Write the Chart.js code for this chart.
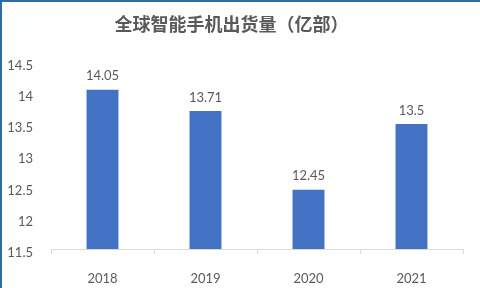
<!DOCTYPE html>
<html>
<head>
<meta charset="utf-8">
<script src="https://cdn.jsdelivr.net/npm/chart.js@4"></script>
<style>
  html, body { margin: 0; padding: 0; background: #fff; }
</style>
</head>
<body>
<canvas id="myChart" width="480" height="288"></canvas>
<script>
const years = ['2018', '2019', '2020', '2021']
const shipments = [14.05, 13.71, 12.45, 13.5]
const yMin = 11.5
const yMax = 14.5
const yStep = 0.5

const textColor = '#595959'
const fontFamily = "Lato, 'Noto Sans', sans-serif"

// value labels above bars + the blue frame on the left/top edges
const barLabels = {
  id: 'barLabels',
  afterDatasetsDraw(chart) {
    const ctx = chart.ctx
    const meta = chart.getDatasetMeta(0)
    ctx.save()
    ctx.font = '13px ' + fontFamily
    ctx.fillStyle = textColor
    ctx.textAlign = 'center'
    ctx.textBaseline = 'bottom'
    meta.data.forEach((bar, i) => {
      ctx.fillText(String(shipments[i]), bar.x, bar.y - 7)
    })
    ctx.restore()
  },
  afterDraw(chart) {
    const ctx = chart.ctx
    ctx.save()
    ctx.strokeStyle = '#2e6da4'
    ctx.lineWidth = 2
    ctx.beginPath()
    ctx.moveTo(1, chart.height)
    ctx.lineTo(1, 1)
    ctx.lineTo(chart.width, 1)
    ctx.stroke()
    ctx.restore()
  }
}

const config = {
  type: 'bar',
  data: {
    labels: years,
    datasets: [
      {
        data: shipments,
        backgroundColor: '#4472c4',
        categoryPercentage: 1,
        barPercentage: 0.31
      }
    ]
  },
  options: {
    responsive: false,
    animation: false,
    layout: {
      padding: { top: 0, right: 17, bottom: 0, left: 0 }
    },
    plugins: {
      legend: { display: false },
      tooltip: { enabled: false },
      title: {
        display: true,
        text: '全球智能手机出货量（亿部）',
        color: textColor,
        font: { family: "'Noto Sans CJK SC', sans-serif", size: 18, weight: 'bold' },
        padding: { top: 13, bottom: 27 }
      }
    },
    scales: {
      x: {
        grid: {
          display: true,
          drawOnChartArea: false,
          drawTicks: true,
          tickLength: 5,
          color: '#d9d9d9',
          offset: true
        },
        border: { display: true, color: '#d9d9d9' },
        ticks: {
          color: textColor,
          font: { family: fontFamily, size: 13 },
          padding: 17
        },
        afterFit(scale) { scale.height = 39 }
      },
      y: {
        min: yMin,
        max: yMax,
        grid: { display: false, drawTicks: false },
        border: { display: false },
        ticks: {
          stepSize: yStep,
          color: textColor,
          font: { family: fontFamily, size: 13 },
          padding: 18,
          labelOffset: 4,
          callback: (v) => String(v)
        },
        afterFit(scale) { scale.width = 51 }
      }
    }
  },
  plugins: [barLabels]
}

const ctx = document.getElementById('myChart')
const myChart = new Chart(ctx, config)
</script>
</body>
</html>
